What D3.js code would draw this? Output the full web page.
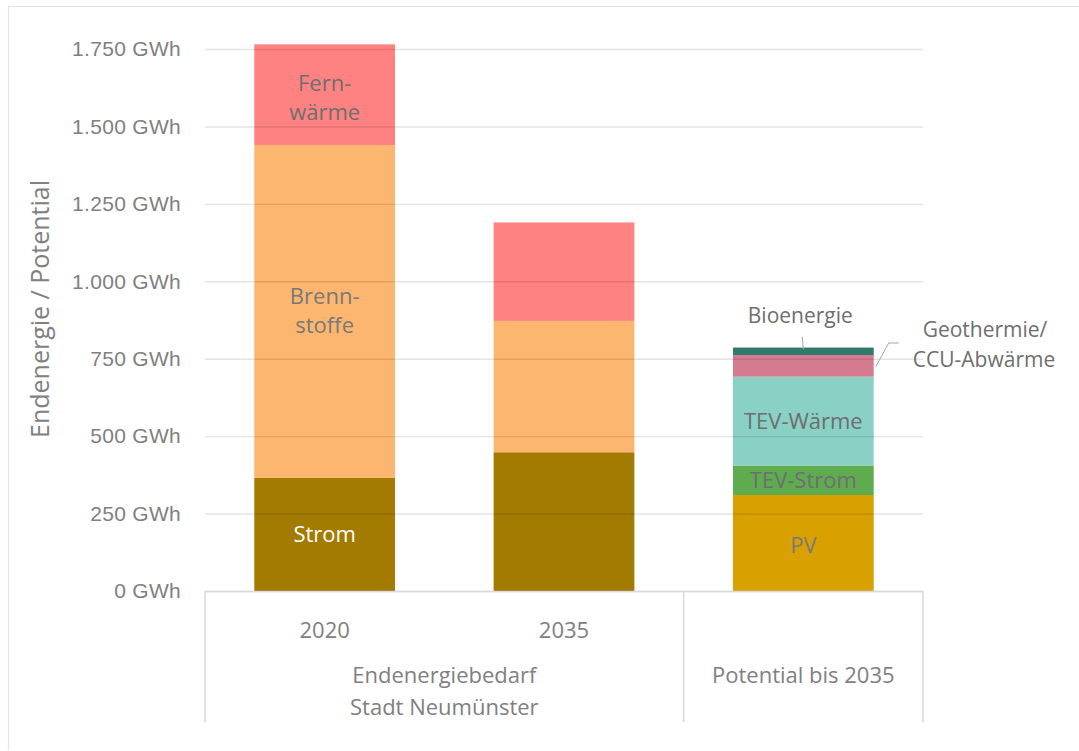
<!DOCTYPE html>
<html>
<head>
<meta charset="utf-8">
<script src="https://cdn.jsdelivr.net/npm/d3@7"></script>
<style>
  html, body { margin: 0; padding: 0; background: #fff; }
  svg { display: block; font-family: "Open Sans", "Noto Sans", sans-serif; }
</style>
</head>
<body>
<svg id="chart" width="1079" height="751"></svg>
<script>
// Bars (x categories) and their stacked segments, bottom to top
const categories = ["2020", "2035", "Potential"];
const groupLabels = [
  { lines: ["Endenergiebedarf", "Stadt Neumünster"], from: 0, to: 1 },
  { lines: ["Potential bis 2035"], from: 2, to: 2 }
];
const tickLabels = ["2020", "2035", ""];

const demandSeries = ["Strom", "Brennstoffe", "Fernwärme"];
const demandValues = {
  "2020": [365, 1075, 325],
  "2035": [448, 424, 318]
};
const potentialSeries = ["PV", "TEV-Strom", "TEV-Wärme", "Geothermie/CCU-Abwärme", "Bioenergie"];
const potentialValues = [310, 95, 287, 70, 24];

const seriesColors = {
  "Strom": "#a27b00",
  "Brennstoffe": "#fdb670",
  "Fernwärme": "#ff8282",
  "PV": "#d9a100",
  "TEV-Strom": "#5fac50",
  "TEV-Wärme": "#89d0c5",
  "Geothermie/CCU-Abwärme": "#d57b8f",
  "Bioenergie": "#2f7a6a"
};

const yTicks = [0, 250, 500, 750, 1000, 1250, 1500, 1750];
const yFormat = v => d3.format(",")(v).replace(/,/g, ".") + " GWh";

const svg = d3.select("#chart");
const plot = { left: 205, right: 923, top: 49, bottom: 591 };

const x = d3.scaleBand().domain(categories).range([plot.left, plot.right]).paddingInner(0.412).paddingOuter(0.206);
const xOuter = d3.scaleBand().domain(categories).range([plot.left, plot.right]);
const y = d3.scaleLinear().domain([0, 1750]).range([plot.bottom, plot.top]);

const textGrey = "#808080";
const labelGrey = "#6e6e6e";

// outer frame (left and top edges)
svg.append("path").attr("d", "M8.5,750 V6.5 H1079").attr("fill", "none").attr("stroke", "#e3e3e3").attr("stroke-width", 1.2);

// build stacked rows
const rows = [];
categories.forEach(c => {
  const names = c === "Potential" ? potentialSeries : demandSeries;
  const vals = c === "Potential" ? potentialValues : demandValues[c];
  let acc = 0;
  names.forEach((n, i) => {
    rows.push({ cat: c, name: n, y0: acc, y1: acc + vals[i] });
    acc += vals[i];
  });
});

// bars
svg.append("g").selectAll("rect").data(rows).join("rect")
  .attr("x", d => x(d.cat))
  .attr("width", x.bandwidth())
  .attr("y", d => y(d.y1))
  .attr("height", d => y(d.y0) - y(d.y1))
  .attr("fill", d => seriesColors[d.name]);

// gridlines (drawn faintly over the bars) and value labels
const yAxis = d3.axisLeft(y).tickValues(yTicks).tickFormat(yFormat).tickSize(-(plot.right - plot.left)).tickPadding(24);
const gy = svg.append("g").attr("transform", `translate(${plot.left},0)`).call(yAxis);
gy.select(".domain").remove();
gy.selectAll(".tick line").attr("stroke", "rgba(0,0,0,0.11)").attr("stroke-width", 1.4);
gy.selectAll(".tick text").attr("fill", textGrey).attr("font-size", 21).attr("letter-spacing", 0.3);

// baseline
svg.append("line").attr("x1", plot.left).attr("x2", plot.right).attr("y1", y(0) + 0.5).attr("y2", y(0) + 0.5)
  .attr("stroke", "#d9d9d9").attr("stroke-width", 1.5);

// category axis separators
const sepX = [plot.left, xOuter("Potential"), plot.right];
svg.append("g").selectAll("line").data(sepX).join("line")
  .attr("x1", d => d).attr("x2", d => d)
  .attr("y1", plot.bottom).attr("y2", 722)
  .attr("stroke", "#d9d9d9").attr("stroke-width", 1.5);

// tick labels under bars
svg.append("g").selectAll("text").data(categories.map((c, i) => ({ c, t: tickLabels[i] }))).join("text")
  .attr("x", d => x(d.c) + x.bandwidth() / 2)
  .attr("y", 638)
  .attr("text-anchor", "middle").attr("fill", textGrey).attr("font-size", 22)
  .text(d => d.t);

// group labels
groupLabels.forEach(g => {
  const cx = (xOuter(categories[g.from]) + xOuter(categories[g.to]) + xOuter.bandwidth()) / 2;
  g.lines.forEach((l, i) => {
    svg.append("text").attr("x", cx).attr("y", 683 + i * 32)
      .attr("text-anchor", "middle").attr("fill", textGrey).attr("font-size", 22).text(l);
  });
});

// y axis title
svg.append("text")
  .attr("transform", `translate(49,${309}) rotate(-90)`)
  .attr("text-anchor", "middle").attr("fill", textGrey).attr("font-size", 25)
  .text("Endenergie / Potential");

// labels inside the segments
const inLabels = [
  { cat: "2020", name: "Fernwärme", lines: ["Fern-", "wärme"], color: labelGrey, dy: 11 },
  { cat: "2020", name: "Brennstoffe", lines: ["Brenn-", "stoffe"], color: "#787878", dy: 7 },
  { cat: "2020", name: "Strom", lines: ["Strom"], color: "#ffffff", dy: 8 },
  { cat: "Potential", name: "PV", lines: ["PV"], color: "#7a7a7a", dy: 10 },
  { cat: "Potential", name: "TEV-Strom", lines: ["TEV-Strom"], color: labelGrey, dy: 8 },
  { cat: "Potential", name: "TEV-Wärme", lines: ["TEV-Wärme"], color: labelGrey, dy: 8 }
];
inLabels.forEach(l => {
  const r = rows.find(d => d.cat === l.cat && d.name === l.name);
  const cx = x(l.cat) + x.bandwidth() / 2;
  const cy = (y(r.y0) + y(r.y1)) / 2;
  const n = l.lines.length;
  l.lines.forEach((t, i) => {
    svg.append("text").attr("x", cx).attr("y", cy + (i - (n - 1) / 2) * 29 + l.dy)
      .attr("text-anchor", "middle").attr("fill", l.color).attr("font-size", 22).text(t);
  });
});

// callouts for the thin segments on top of the potential bar
const bio = rows.find(d => d.name === "Bioenergie");
const geo = rows.find(d => d.name === "Geothermie/CCU-Abwärme");
const pxR = x("Potential") + x.bandwidth();
const bx = x("Potential") + x.bandwidth() / 2;
svg.append("line").attr("x1", bx - 1).attr("y1", 337).attr("x2", bx).attr("y2", y(bio.y1) + 2)
  .attr("stroke", "#a6a6a6").attr("stroke-width", 1);
svg.append("text").attr("x", bx - 3).attr("y", 323).attr("text-anchor", "middle")
  .attr("fill", labelGrey).attr("font-size", 21).text("Bioenergie");

const gyMid = (y(geo.y0) + y(geo.y1)) / 2;
svg.append("polyline").attr("points", `${pxR + 2},${gyMid + 1} ${pxR + 15},${343} ${pxR + 25},${343}`)
  .attr("fill", "none").attr("stroke", "#a6a6a6").attr("stroke-width", 1);
svg.append("text").attr("x", 985).attr("y", 337).attr("text-anchor", "middle")
  .attr("fill", labelGrey).attr("font-size", 21).text("Geothermie/");
svg.append("text").attr("x", 984).attr("y", 367).attr("text-anchor", "middle")
  .attr("fill", labelGrey).attr("font-size", 21).text("CCU-Abwärme");
</script>
</body>
</html>
